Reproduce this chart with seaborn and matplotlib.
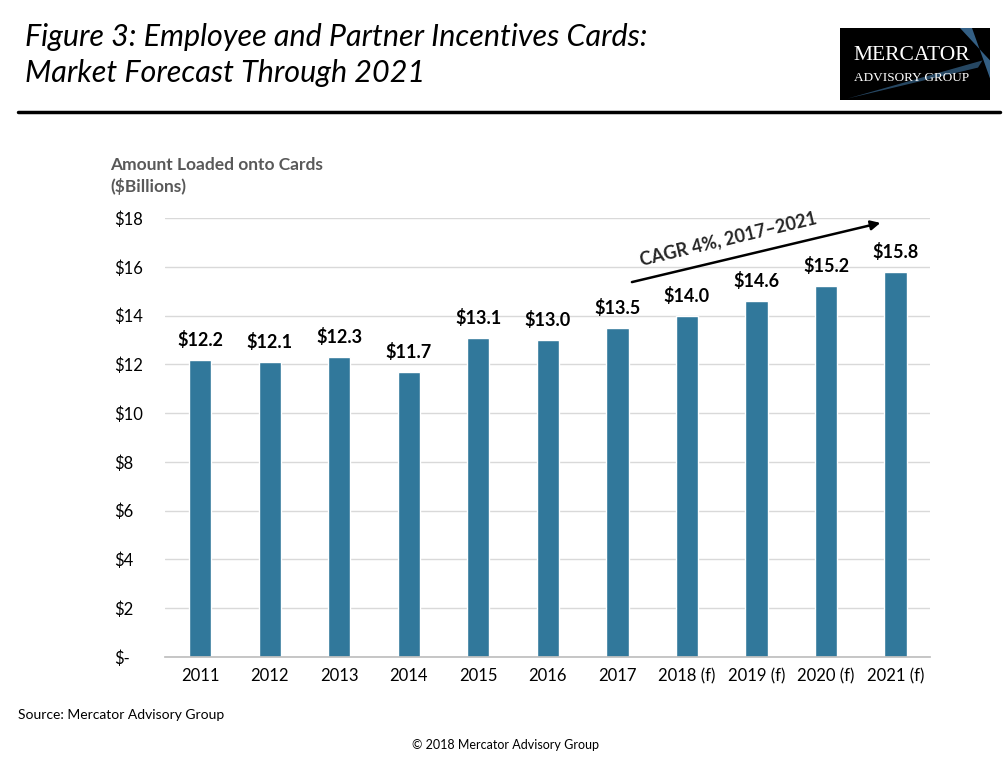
import matplotlib
matplotlib.use('Agg')
import matplotlib.pyplot as plt
import seaborn as sns
import pandas as pd
import numpy as np
from matplotlib.patches import Rectangle, Polygon

# Data
years = ['2011', '2012', '2013', '2014', '2015', '2016', '2017',
         '2018 (f)', '2019 (f)', '2020 (f)', '2021 (f)']
amounts = [12.2, 12.1, 12.3, 11.7, 13.1, 13.0, 13.5, 14.0, 14.6, 15.2, 15.8]
ytick_vals = [0, 2, 4, 6, 8, 10, 12, 14, 16, 18]
ytick_labels = ['$-', '$2', '$4', '$6', '$8', '$10', '$12', '$14', '$16', '$18']

df = pd.DataFrame({'year': years, 'amount': amounts})

sns.set_theme(style='white')
plt.rcParams['font.family'] = ['Lato', 'DejaVu Sans']

bar_color = '#31789B'
fig = plt.figure(figsize=(10.08, 7.68), dpi=100)
ax = fig.add_axes([0.164, 0.1445, 0.759, 0.5715])

sns.barplot(data=df, x='year', y='amount', color=bar_color, width=0.32,
            saturation=1, ax=ax)

ax.set_ylim(0, 18)
ax.set_xlim(-0.5, len(years) - 0.5)
ax.set_yticks(ytick_vals)
ax.set_yticklabels(ytick_labels)
ax.yaxis.grid(True, color='#D9D9D9', linewidth=1)
ax.set_axisbelow(True)
for s in ['top', 'right', 'left']:
    ax.spines[s].set_visible(False)
ax.spines['bottom'].set_color('#BFBFBF')
ax.set_xlabel('')
ax.set_ylabel('')
ax.tick_params(axis='both', length=0, labelsize=12, colors='black')
ax.tick_params(axis='x', pad=8)
ax.tick_params(axis='y', pad=37)  # points
for lbl in ax.get_yticklabels():
    lbl.set_horizontalalignment('left')

# value labels
for i, v in enumerate(amounts):
    ax.text(i, v + 0.45, f'${v:.1f}', ha='center', va='bottom',
            fontsize=13, fontweight='bold', color='black')

# CAGR arrow
ax.annotate('', xy=(9.82, 17.83), xytext=(6.17, 15.35),
            arrowprops=dict(arrowstyle='-|>', color='black', lw=1.8,
                            mutation_scale=14))
ax.text(7.6, 17.15, 'CAGR 4%, 2017\u20132021', rotation=13.5,
        ha='center', va='center', fontsize=13, fontweight='bold',
        rotation_mode='anchor')

# Axis title
fig.text(110 / 1008, 1 - 157 / 768, 'Amount Loaded onto Cards\n($Billions)',
         ha='left', va='top', fontsize=12.5, fontweight='bold', color='#595959',
         linespacing=1.35)

# Header title
fig.text(25 / 1008, 1 - 23 / 768,
         'Figure 3: Employee and Partner Incentives Cards:\nMarket Forecast Through 2021',
         ha='left', va='top', fontsize=22, style='italic', color='black',
         linespacing=1.35)

# Horizontal rule
fig.add_artist(plt.Line2D([18 / 1008, 1000 / 1008], [1 - 112 / 768, 1 - 112 / 768],
                          color='black', lw=2.5, transform=fig.transFigure))

# Logo
lx0, ly0, lw, lh = 840 / 1008, 1 - 100 / 768, 150 / 1008, 72 / 768
fig.add_artist(Rectangle((lx0, ly0), lw, lh, transform=fig.transFigure,
                         facecolor='black', edgecolor='none'))
fig.add_artist(Polygon([(lx0 + lw * 0.05, ly0 + lh * 0.02),
                        (lx0 + lw * 0.95, ly0 + lh * 0.55),
                        (lx0 + lw * 0.92, ly0 + lh * 0.45)],
                       closed=True, transform=fig.transFigure,
                       facecolor='#2B4F6E', edgecolor='none', alpha=0.9))
fig.add_artist(Polygon([(lx0 + lw * 0.80, ly0 + lh), (lx0 + lw * 0.88, ly0 + lh),
                        (lx0 + lw, ly0 + lh * 0.3), (lx0 + lw, ly0 + lh * 0.55)],
                       closed=True, transform=fig.transFigure,
                       facecolor='#3A6A93', edgecolor='none', alpha=0.9))
fig.text(lx0 + lw * 0.48, ly0 + lh * 0.62, 'MERCATOR', ha='center', va='center',
         fontsize=15.5, family=['Liberation Serif', 'DejaVu Serif'], color='white')
fig.text(lx0 + lw * 0.48, ly0 + lh * 0.30, 'ADVISORY GROUP', ha='center', va='center',
         fontsize=9.5, family=['Liberation Serif', 'DejaVu Serif'], color='white')

# Footer
fig.text(18 / 1008, 1 - 715 / 768, 'Source: Mercator Advisory Group',
         ha='left', va='center', fontsize=10, color='black')
fig.text(505 / 1008, 1 - 745 / 768, '\u00a9 2018 Mercator Advisory Group',
         ha='center', va='center', fontsize=9, color='black')

fig.savefig('out.png', dpi=100)
